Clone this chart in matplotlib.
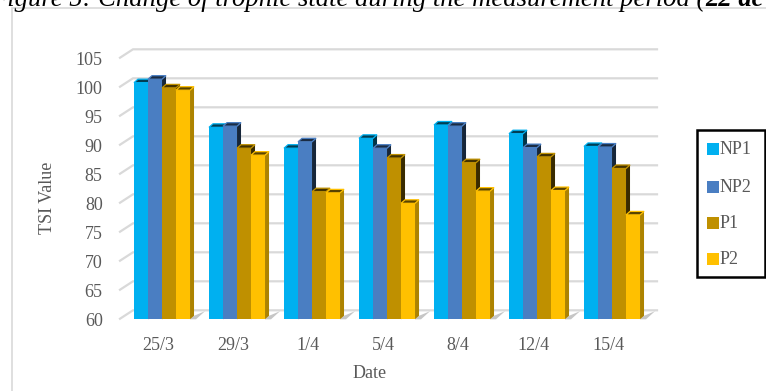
import numpy as np
import matplotlib
matplotlib.use("Agg")
import matplotlib.pyplot as plt
from matplotlib.patches import Polygon, Rectangle
from matplotlib.colors import to_rgb

plt.rcParams['font.family'] = ['Liberation Serif', 'DejaVu Serif']

# данные
dates = ['25/3', '29/3', '1/4', '5/4', '8/4', '12/4', '15/4']
np1 = [100.8, 93.1, 89.5, 91.2, 93.5, 92.0, 89.8]
np2 = [101.4, 93.3, 90.6, 89.5, 93.3, 89.6, 89.7]
p1 = [99.9, 89.5, 82.0, 87.8, 87.0, 88.0, 86.0]
p2 = [99.5, 88.3, 81.8, 80.0, 82.1, 82.2, 78.0]
series = ['NP1', 'NP2', 'P1', 'P2']
colors = ['#00B0F0', '#4A7EC2', '#BF9000', '#FFC000']
yticks = [60, 65, 70, 75, 80, 85, 90, 95, 100, 105]

W, H = 766, 391
fig = plt.figure(figsize=(W / 100, H / 100), dpi=100)


def fx(px):
    return px / W


def fy(py):
    return (H - py) / H


grey_txt = '#595959'

# рамка области диаграммы
fig.patches.append(Rectangle((fx(12), fy(H + 5)), fx(W), fy(8) - fy(H + 5),
                             transform=fig.transFigure, fill=False,
                             edgecolor='#d9d9d9', lw=1.2))

# подпись рисунка, обрезанная сверху
t1 = fig.text(fx(-9), fy(6), "Figure 5: Change of trophic state during the measurement period (",
              fontsize=19.2, style='italic', va='baseline', ha='left', color='black')
fig.canvas.draw()
bb = t1.get_window_extent()
fig.text(bb.x1 / W, fy(6), "22 ac", fontsize=19.2, style='italic', weight='bold',
         va='baseline', ha='left', color='black')

ax = fig.add_axes([fx(120), fy(319.3), fx(657) - fx(120), fy(58.3) - fy(319.3)])
xmin, xmax = -0.507, 6.653
ax.set_xlim(xmin, xmax)
ax.set_ylim(60, 105)
for s in ax.spines.values():
    s.set_visible(False)

# сетка на задней стенке (псевдо-3D)
gdx, gdy = 13 / 75, 9 / 5.8
for v in yticks:
    ax.plot([xmin, xmin + gdx, xmax], [v + 0.1, v + gdy, v + gdy], color='#d9d9d9',
            lw=1.6, clip_on=False, zorder=1)

x = np.arange(len(dates))
w = 14 / 75
bdx, bdy = 4 / 75, 3.5 / 5.8
data = [np1, np2, p1, p2]


def shade(c, k):
    r, g, b = to_rgb(c)
    return (r * k, g * k, b * k)


z = 3
for i in range(len(dates)):
    left0 = x[i] - 0.32
    # тень у основания группы
    xr = left0 + 4 * w
    ax.add_patch(Polygon([(xr, 60), (xr + bdx, 60 + bdy), (xr + 0.2, 61.4), (xr + 0.08, 60.0)],
                         closed=True, facecolor='#a0a0a0', edgecolor='none', alpha=0.6,
                         zorder=2, clip_on=False))
    for k in range(4):
        v = data[k][i]
        x0 = left0 + k * w
        c = colors[k]
        side_k = 0.68 if k == 3 else 0.3
        side = Polygon([(x0 + w, 60), (x0 + w + bdx, 60 + bdy), (x0 + w + bdx, v + bdy), (x0 + w, v)],
                       closed=True, facecolor=shade(c, side_k), edgecolor='none', zorder=z, clip_on=False)
        top = Polygon([(x0, v), (x0 + bdx, v + bdy), (x0 + w + bdx, v + bdy), (x0 + w, v)],
                      closed=True, facecolor=shade(c, 0.35), edgecolor=c, lw=0.9, zorder=z, clip_on=False)
        front = Rectangle((x0, 60), w, v - 60, facecolor=c, edgecolor='none', zorder=z, clip_on=False)
        ax.add_patch(side)
        ax.add_patch(front)
        ax.add_patch(top)
        z += 1

ax.set_yticks(yticks)
ax.set_yticklabels([str(v) for v in yticks])
ax.set_xticks(x)
ax.set_xticklabels(dates)
ax.tick_params(axis='both', length=0, labelsize=13, colors=grey_txt)
ax.tick_params(axis='y', pad=12.5)
ax.tick_params(axis='x', pad=12.5)

fig.text(fx(47), fy(198), 'TSI Value', rotation=90, fontsize=13, color=grey_txt,
         ha='center', va='center')
fig.text(fx(370), fy(373), 'Date', fontsize=13, color=grey_txt, ha='center', va='center')

# легенда
fig.patches.append(Rectangle((fx(697), fy(277)), fx(765) - fx(697), fy(130) - fy(277),
                             transform=fig.transFigure, fill=False, edgecolor='black', lw=1.8))
leg_y = [149, 187, 223, 259]
for name, c, ly in zip(series, colors, leg_y):
    fig.patches.append(Rectangle((fx(707), fy(ly + 6)), fx(12), fy(0) - fy(12),
                                 transform=fig.transFigure, facecolor=c, edgecolor='none'))
    fig.text(fx(720), fy(ly), name, fontsize=13, color=grey_txt, ha='left', va='center')

fig.savefig('out.png', dpi=100)
